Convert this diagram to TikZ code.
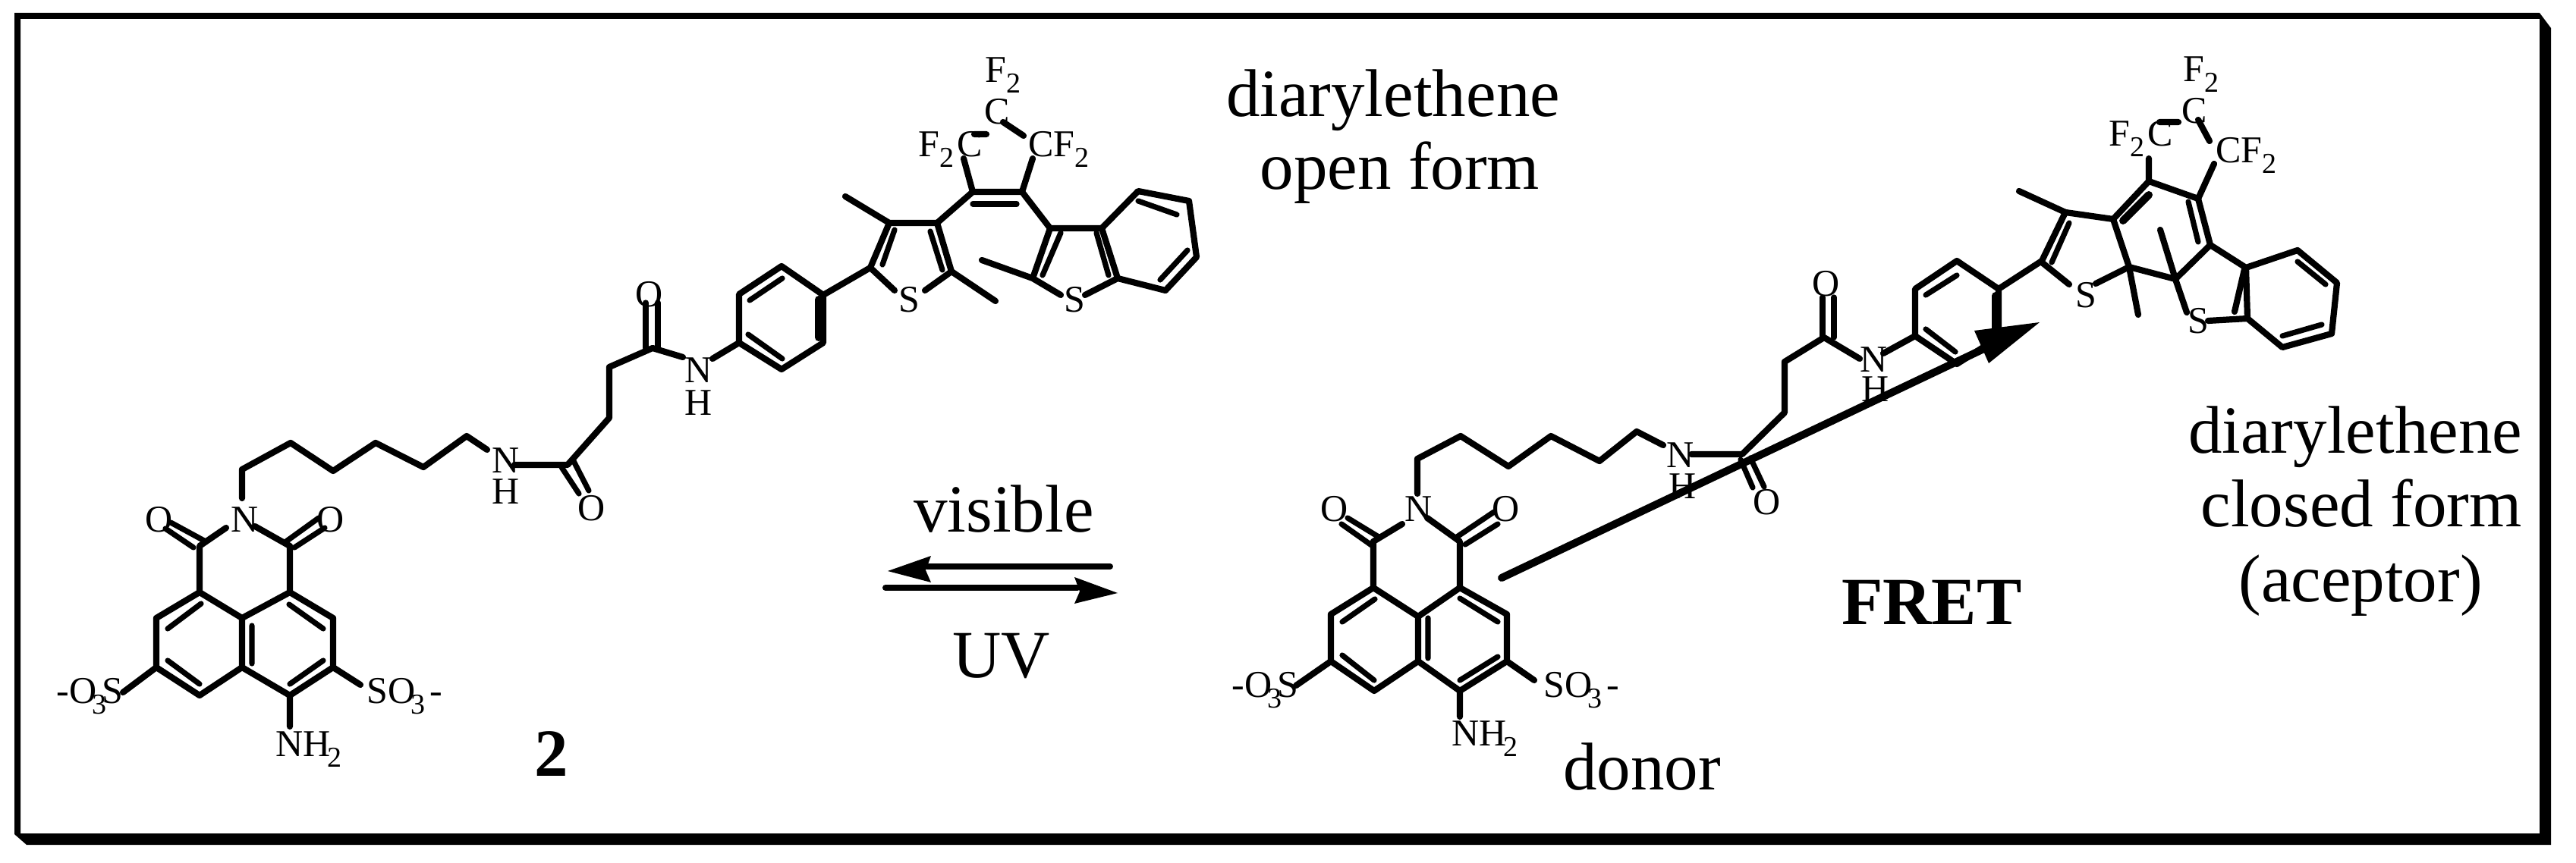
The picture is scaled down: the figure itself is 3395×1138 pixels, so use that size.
\documentclass[tikz,border=0pt]{standalone}
\usepackage{fontspec}
\setmainfont{Liberation Serif}
\newcommand{\sbs}[2][0pt]{\kern#1\raisebox{-7pt}{\fontsize{19pt}{19pt}\selectfont #2}}
\tikzset{
  bond/.style={line width=4.1pt,line cap=round,line join=round},
  inner/.style={line width=3.6pt,line cap=round},
  heavy/.style={line width=5pt,line cap=round},
  lab/.style={anchor=base,inner sep=0pt,font=\fontsize{25pt}{25pt}\selectfont},
  labw/.style={lab,anchor=base west},
  big/.style={anchor=base,inner sep=0pt,font=\fontsize{44.5pt}{44.5pt}\selectfont},
  bigb/.style={big,font=\fontsize{44.5pt}{44.5pt}\selectfont\bfseries},
  rline/.style={line width=4pt,line cap=round},
  head/.style={fill=black,draw=none}
}
\begin{document}
\begin{tikzpicture}[x=0.5pt,y=-0.5pt]
\useasboundingbox (0,0) rectangle (3395,1138);
% frame
\fill[even odd rule] (19,17)--(3347,17)--(3362,37)--(3362,1114)--(35,1114)--(19,1100)--cycle
  (27,25)--(27,1099)--(3347,1099)--(3347,25)--cycle;

% ---------- left molecule: naphthalimide ----------
\draw[bond] (263,781)--(206,815)--(206,880)--(263,917)--(319,880)--(319,815)--cycle;
\draw[bond] (319,815)--(382,781)--(439,815)--(439,880)--(382,917)--(319,880);
\draw[inner] (265,796)--(221,829) (221,871)--(263,902) (332,825)--(332,875);
\draw[inner] (381,797)--(426,829) (426,871)--(382,902);
\draw[bond] (263,781)--(263,720)--(298,696) (382,781)--(382,720)--(336,694);
\draw[inner] (255,722)--(218,697) (271,714)--(225,689);
\draw[inner] (377,714)--(420,683) (388,722)--(428,696);
\draw[bond] (206,880)--(162,913) (439,880)--(475,903) (382,917)--(382,958);
\draw[bond] (319,657)--(319,619)--(383,584)--(439,621)--(495,584)--(558,616)--(615,575)--(642,593);
\draw[bond] (678,613)--(748,613)--(803,551)--(803,484)--(860,459)--(900,471);
\draw[inner] (740,616)--(763,651) (756,608)--(776,647);
\draw[inner] (851,459)--(851,399) (867,459)--(867,399);
\draw[bond] (939,473)--(974,452)--(974,388)--(1030,351)--(1085,389)--(1085,452)--(1030,487)--(974,452);
\draw[inner] (988,396)--(1031,367) (986,441)--(1031,473);
\draw[heavy] (1079,395)--(1079,445);
\draw[bond] (1085,389)--(1147,353)--(1172,294)--(1235,294)--(1254,358)--(1219,383);
\draw[bond] (1147,353)--(1179,383);
\draw[inner] (1179,303)--(1163,349) (1226,305)--(1242,356);
\draw[bond] (1172,294)--(1114,259) (1254,358)--(1312,397);
\draw[bond] (1235,294)--(1282,253)--(1347,253)--(1384,301)--(1452,301)--(1473,367)--(1430,389);
\draw[inner] (1282,269)--(1340,269);
\draw[bond] (1282,253)--(1270,209) (1347,253)--(1361,209);
\draw[bond] (1284,177)--(1300,177) (1322,161)--(1349,179);
\draw[bond] (1384,301)--(1361,367)--(1398,389) (1361,367)--(1294,343);
\draw[inner] (1398,307)--(1374,363) (1445,307)--(1461,363);
\draw[bond] (1452,301)--(1500,252)--(1567,265)--(1577,339)--(1536,383)--(1473,367);
\draw[inner] (1500,265)--(1551,283) (1565,330)--(1529,369);

\node[lab] (nimL) at (323,702) {N};
\node[lab] (oaL) at (210,701) {O};
\node[lab] (obL) at (436,701) {O};
\node[labw] (so3aL) at (74,927) {-O\sbs[-3pt]{3}\kern-3pt S};
\node[labw] (so3bL) at (483,927) {SO\sbs[-3pt]{3}\kern3pt -};
\node[labw] (nh2L) at (363,997) {NH\sbs[-2pt]{2}};
\node[lab] (naL) at (667,624) {N};
\node[lab] (haL) at (667,665) {H};
\node[lab] (ocL) at (780,687) {O};
\node[lab] (odL) at (856,405) {O};
\node[lab] (nbL) at (921,505) {N};
\node[lab] (hbL) at (921,548) {H};
\node[lab] (saL) at (1198,412) {S};
\node[lab] (sbL) at (1416,412) {S};
\node[labw] (cfaL) at (1210,207) {F\sbs[0pt]{2}\kern2pt C};
\node[labw] (fcL) at (1298,109) {F\sbs[0pt]{2}};
\node[lab] (ccL) at (1314,164) {C};
\node[labw] (cfbL) at (1355,207) {CF\sbs[0pt]{2}};

% ---------- right molecule ----------
\draw[bond] (1810,775)--(1754,810)--(1754,872)--(1811,911)--(1869,872)--(1869,813)--cycle;
\draw[bond] (1869,813)--(1924,775)--(1986,810)--(1986,872)--(1924,911)--(1869,872);
\draw[inner] (1812,790)--(1769,820) (1769,864)--(1811,897) (1882,815)--(1882,868);
\draw[inner] (1924,789)--(1974,820) (1974,866)--(1924,897);
\draw[bond] (1810,775)--(1810,714)--(1848,691) (1924,775)--(1924,714)--(1881,683);
\draw[inner] (1809,720)--(1768,691) (1817,708)--(1776,683);
\draw[inner] (1920,708)--(1969,675) (1931,718)--(1974,691);
\draw[bond] (1754,872)--(1708,904) (1986,872)--(2022,897) (1924,911)--(1924,945);
\draw[bond] (1868,651)--(1868,605)--(1925,575)--(1988,615)--(2044,575)--(2108,608)--(2157,569)--(2192,587);
\draw[bond] (2229,599)--(2296,599)--(2352,544)--(2352,477)--(2404,445)--(2451,473);
\draw[inner] (2294,606)--(2310,643) (2307,604)--(2325,642);
\draw[inner] (2402,445)--(2402,392) (2417,445)--(2417,392);
\draw[bond] (2482,466)--(2524,443)--(2524,381)--(2579,344)--(2634,381)--(2634,445)--(2579,480)--(2524,443);
\draw[inner] (2538,389)--(2579,363) (2538,434)--(2577,464);
\draw[heavy] (2630,390)--(2630,440);
\draw[bond] (2634,381)--(2691,344)--(2722,280)--(2785,289)--(2806,352)--(2762,374);
\draw[bond] (2691,346)--(2727,375);
\draw[inner] (2727,294)--(2704,346);
\draw[bond] (2722,280)--(2661,252) (2806,352)--(2818,415);
\draw[bond] (2806,352)--(2867,368)--(2913,323)--(2960,353)--(2962,420)--(2910,423);
\draw[bond] (2867,368)--(2847,303) (2867,368)--(2882,412) (2958,355)--(2945,411);
\draw[bond] (2785,289)--(2832,239)--(2897,262)--(2913,323);
\draw[heavy] (2798,291)--(2832,257);
\draw[inner] (2884,266)--(2897,319);
\draw[bond] (2832,239)--(2832,209) (2897,262)--(2918,216);
\draw[bond] (2846,161)--(2871,161) (2897,158)--(2912,186);
\draw[bond] (2960,353)--(3028,330)--(3080,373)--(3073,440)--(3008,458)--(2962,420);
\draw[inner] (3028,345)--(3065,375) (3008,443)--(3060,428);

\node[lab] (nimR) at (1870,688) {N};
\node[lab] (oaR) at (1759,688) {O};
\node[lab] (obR) at (1985,688) {O};
\node[labw] (so3aR) at (1623,919) {-O\sbs[-3pt]{3}\kern-3pt S};
\node[labw] (so3bR) at (2034,919) {SO\sbs[-3pt]{3}\kern3pt -};
\node[labw] (nh2R) at (1913,983) {NH\sbs[-2pt]{2}};
\node[lab] (naR) at (2215,617) {N};
\node[lab] (haR) at (2218,658) {H};
\node[lab] (ocR) at (2329,679) {O};
\node[lab] (odR) at (2407,391) {O};
\node[lab] (nbR) at (2470,491) {N};
\node[lab] (hbR) at (2472,530) {H};
\node[lab] (saR) at (2749,406) {S};
\node[lab] (sbR) at (2897,440) {S};
\node[labw] (cfaR) at (2779,193) {F\sbs[0pt]{2}\kern2pt C};
\node[labw] (fcR) at (2877,108) {F\sbs[0pt]{2}};
\node[lab] (ccR) at (2892,163) {C};
\node[labw] (cfbR) at (2920,215) {CF\sbs[0pt]{2}};

% ---------- FRET arrow ----------
\coordinate (fretS) at (1979,762);
\coordinate (fretE) at (2625,455);
\coordinate (fretT) at (2688,425);
\draw[heavy] (fretS)--(fretE);
\fill[head] (fretT)--(2602,436)--(2621,479)--cycle;

% ---------- equilibrium arrows ----------
\coordinate (eqaS) at (1463,747);
\coordinate (eqaE) at (1222,747);
\coordinate (eqbS) at (1167,775);
\coordinate (eqbE) at (1420,775);
\draw[rline] (eqaS)--(eqaE);
\fill[head] (1170,753)--(1227,733)--(1220,752)--(1227,768)--cycle;
\draw[rline] (eqbS)--(eqbE);
\fill[head] (1473,782)--(1416,761)--(1423,780)--(1416,796)--cycle;

% ---------- large texts ----------
\node[big] (tvis) at (1323,702) {visible};
\node[big] (tuv) at (1320,893) {UV};
\node[bigb] (tnum) at (727,1023) {2};
\node[bigb] (tfret) at (2546,823) {FRET};
\node[big] (tdon) at (2164,1041) {donor};
\node[big] (toa) at (1836,154) {diarylethene};
\node[big] (tob) at (1845,250) {open form};
\node[big] (tca) at (3104,598) {diarylethene};
\node[big] (tcb) at (3112,695) {closed form};
\node[big] (tcc) at (3111,793) {(aceptor)};
\end{tikzpicture}
\end{document}
